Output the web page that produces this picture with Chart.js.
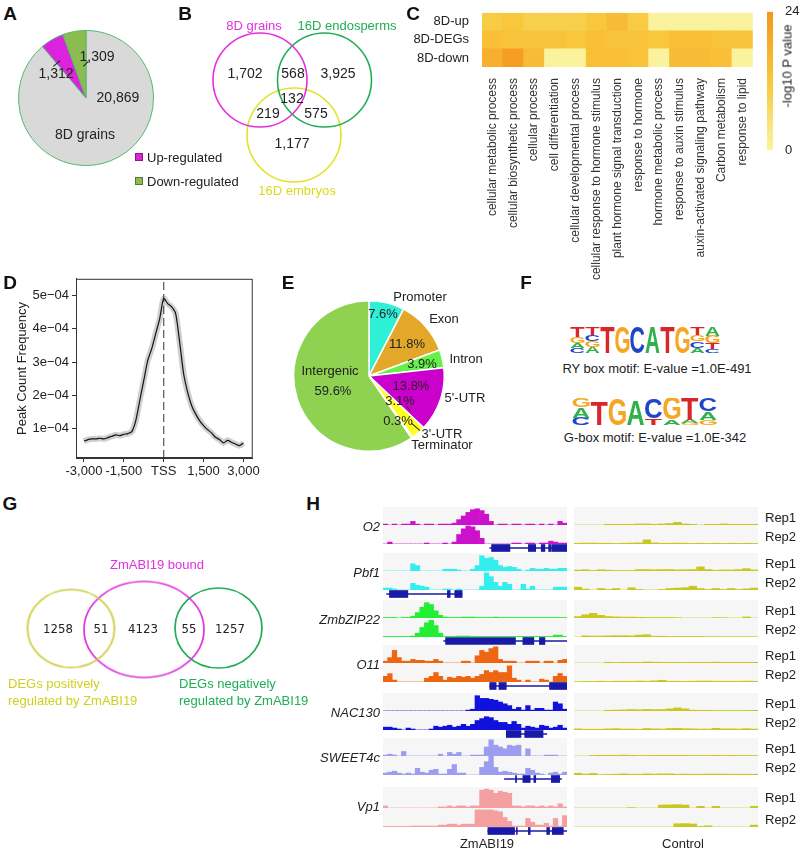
<!DOCTYPE html>
<html>
<head>
<meta charset="utf-8">
<script src="https://cdn.jsdelivr.net/npm/chart.js@4/dist/chart.umd.min.js"></script>
<style>
  body { margin: 0; background: #fff; font-family: "Liberation Sans", Arial, sans-serif; }
  #fig { position: relative; width: 800px; height: 852px; overflow: hidden; }
  #fig canvas { position: absolute; }
  .t { position: absolute; white-space: nowrap; line-height: 1; color: #222; }
</style>
</head>
<body>
<div id="fig"></div>
<script>
// ---------- data ----------
// A: 8D grains DEGs
const aLabels = ['8D grains', 'Up-regulated', 'Down-regulated'];
const aCounts = [20869, 1312, 1309];

// B: venn regions (only8D, 8D&endo, onlyEndo, all, 8D&emb, endo&emb, onlyEmb)
const bSets = ['8D grains', '16D endosperms', '16D embryos'];
const bCounts = [1702, 568, 3925, 132, 219, 575, 1177];

// C: GO heatmap (-log10 P)
const goTerms = ['cellular metabolic process', 'cellular biosynthetic process', 'cellular process',
  'cell differentiation', 'cellular developmental process', 'cellular response to hormone stimulus',
  'plant hormone signal transduction', 'response to hormone', 'hormone metabolic process',
  'response to auxin stimulus', 'auxin-activated signaling pathway', 'Carbon metabolism', 'response to lipid'];
const heatRows = ['8D-up', '8D-DEGs', '8D-down'];
const upVals   = [11, 12, 10, 10, 10, 12, 15, 11, 0.5, 0.5, 0.5, 0.5, 0.5];
const degVals  = [14, 13, 13, 13, 12, 14, 13, 13, 12, 14, 14, 13, 13];
const downVals = [18, 22, 15, 0.5, 0.5, 14, 14, 13, 0.5, 15, 15, 14, 0.5];
const heatMax = 24;

// D: peak frequency around TSS (units of 1e-04)
const tssPos = [-3000, -2850, -2700, -2550, -2400, -2250, -2100, -1950, -1800, -1650, -1500, -1350, -1200, -1050,
  -900, -750, -600, -450, -300, -150, 0, 150, 300, 450, 600, 750, 900, 1050, 1200, 1350, 1500, 1650, 1800, 1950,
  2100, 2250, 2400, 2550, 2700, 2850, 3000];
const peakFreq = [0.63, 0.68, 0.70, 0.70, 0.72, 0.70, 0.74, 0.78, 0.82, 0.80, 0.84, 0.86, 0.92, 1.25,
  1.85, 2.45, 3.05, 3.4, 3.85, 4.3, 4.9, 4.75, 4.65, 4.45, 3.6, 2.65, 2.1, 1.7, 1.45, 1.25, 1.1, 0.98, 0.88, 0.75,
  0.68, 0.58, 0.66, 0.6, 0.55, 0.5, 0.58];
const xTicksD = [-3000, -1500, 0, 1500, 3000];
const yTicksD = [1, 2, 3, 4, 5];

// E: peak distribution
const eParts = ['Promoter', 'Exon', 'Intron', "5'-UTR", "3'-UTR", 'Terminator', 'Intergenic'];
const ePct = [7.6, 11.8, 3.9, 13.8, 3.1, 0.3, 59.6];

// F: motifs (letters top to bottom, heights in bits)
const ryLetters = ['TGAC', 'TCGA', 'T', 'G', 'C', 'A', 'T', 'G', 'TGCA', 'AGTC'];
const ryBits = [[0.75, 0.5, 0.4, 0.35], [0.6, 0.5, 0.45, 0.45], [2], [2], [2], [2], [2], [2],
  [0.6, 0.5, 0.5, 0.4], [0.7, 0.55, 0.45, 0.3]];
const gboxLetters = ['GAC', 'T', 'G', 'A', 'CT', 'GA', 'TAG', 'CAG'];
const gboxBits = [[0.65, 0.75, 0.55], [1.75], [1.95], [1.85], [1.5, 0.5], [1.6, 0.4], [1.6, 0.25, 0.15], [1.0, 0.6, 0.4]];

// G: venn counts (posOnly, pos&bound, boundOnly, neg&bound, negOnly)
const gCounts = [1258, 51, 4123, 55, 1257];

// H: coverage tracks (40 bins ZmABI19, 24 bins control, 0-10 scale)
const hGenes = ['O2', 'Pbf1', 'ZmbZIP22', 'O11', 'NAC130', 'SWEET4c', 'Vp1'];
const o2Rep1 = [0.5,0,0.5,0,0.5,0.5,2,0.5,0,0.5, 0.5,0,0.5,0.5,0.5,1,3,5,7,8.5, 9,8,6,2,0,0.5,0.5,0,0.5,0.5, 0,0.5,0.5,0,0.5,0,0.5,0,2,1];
const o2Rep2 = [0,1,0,0,0,0,0,0,0,0.5, 0,0,0,0.5,0,1,5,8,9.5,9, 7,3,0,0,0,0,0,0,0.5,0.5, 0,0.5,0.5,0,0.5,0.5,1.5,1,0.5,0.5];
const pbf1Rep1 = [0,0,0,0,0,0,4,3,0,0, 0,0,0,1,1,1,0.5,0,0,1, 3,8.5,7,7.5,6,3,2,2.5,2,1, 0,0.5,1.5,1,1,1.5,1,1,1.5,1.5];
const pbf1Rep2 = [1,1,0.5,0,0,0,3.5,2.5,2,1.5, 0,0,0,0.5,0.5,0,0.5,0,0,0, 0,2,9,7,4,2,4,3,0,0, 3,0.5,2,0,0,0,0,1.5,1.5,1.5];
const zip22Rep1 = [0.3,0.3,0.3,0,0.3,0.3,1,3,6,8.5, 7.5,4,1.5,0.5,0.3,0.3,0.3,0.5,0.5,0.5, 0.3,0.3,0.3,0.3,0.5,0.3,0.3,0.3,0.3,0.3, 0.3,0.3,0.3,0.3,0.3,0.3,0.3,0.3,0.3,0.3];
const zip22Rep2 = [0.3,0.3,0.3,0.3,0.3,0.3,0.5,2,5,7.5, 8.8,6,2,0.3,0.3,0.3,0.5,0.5,0.5,0.3, 0.3,0.3,0.3,0.3,0.3,0.3,0.3,0.3,0.3,0.3, 0.3,0.3,0.3,0.3,0.3,0.3,0.3,1,1,0.3];
const o11Rep1 = [1,3,7,3,1,1,2,1.5,1.5,1, 1,2,1,0,0,0,0,1,1,0, 4,7,6,8,9,2,1,1,1,0, 0,1,1,1,0,1,1,0,1.5,2];
const o11Rep2 = [3,4.4,1,0,0,0,0,0,0,2, 3,5,3,1,2.5,2,3,2.5,3,2, 3,4,6,5,6,5,5,8.5,2,1, 0,1,0,0,1.5,1,0,3,4.5,3];
const nacRep1 = [0,0,0,0,0,0,0,0,0,0, 0,0,0,0,0,0,0,0,0.5,1, 8.5,7,7,6.5,6,5,4,3,1,2, 0.5,3,0.5,1.5,1.5,0.5,0.5,5,4,1];
const nacRep2 = [1.5,1.5,1,0.5,0,1,0.5,0,0,0, 0.5,2,1.5,2,2.5,1.5,2,3,2,3, 5,6,7,6.5,5,4,4,3,4.5,3, 1,2,1.5,1,2.5,2,1,1.5,2.5,1];
const sweetRep1 = [0.5,1,0.5,0,2.5,0,0,0,0,0, 0,0,1,0,2,1,2,0,0,0.5, 0.5,0.5,5,9,6,5,4,6,5.5,6, 0,4,0,0,0,0.5,0.5,0.5,0,0];
const sweetRep2 = [1,1.5,2,1,0.5,1,0.5,3.5,1.5,1, 2.5,3,0.5,0.5,3,5.5,1,1,0,0, 0,4,7,10,4,1.5,2,1.5,1,0.5, 0.5,3.5,2.5,1,0.5,0,1,1.5,0.5,1.5];
const vp1Rep1 = [1,0,0,0,0,0,0,0,0,0, 0,0,0.5,0.5,1,0.5,1,1,0.5,1, 1,8.5,9,8.5,7,8,7.5,7,1,1, 0.5,1,1,0.5,1,0.5,1,0.5,2,0.5];
const vp1Rep2 = [0.3,0.3,0.3,0.3,0.3,0.3,0.5,0.5,0.5,0.5, 0.5,0.5,1,1,1.5,1.5,1,1.5,1.5,1.5, 9,9,9,9,8.5,8,5,3,0.5,0.5, 0.5,4.5,2.5,1,1,2,0.5,4.5,0.5,6];

const o2Ctl1 = [0,0,0,0,0.4,0.4,0.4,0.4,0.6,0.6, 0.4,0.6,0.8,1.5,0.6,0.4,0,0.4,0.4,0.6, 0.4,0.4,0.4,0.4];
const o2Ctl2 = [0.4,0.5,0.5,0.4,0.4,0.3,0.4,0.5,0.6,2.2, 0.6,0.4,0.4,0.5,0.4,0.3,0.4,0.3,0.4,0.3, 0.4,0.3,0.4,0.3];
const pbf1Ctl1 = [0.5,0.7,0.3,0.7,0.5,0.3,0.3,0.3,0.8,0.8, 0.7,0.8,0.8,0.6,0.7,0.8,2.3,0.8,0.4,0.6, 0.6,0.8,1.3,0.6];
const pbf1Ctl2 = [1.5,0.5,0,0.8,0.3,0.8,0,1.2,0.3,0, 0,0.3,0.8,1,1.2,2,0.8,0.3,0.8,0.3, 0.8,0.3,0.6,1];
const zip22Ctl1 = [0.8,1.8,2.6,1.5,0.8,0.6,0.5,0.5,0.4,0.3, 0.3,0.3,0.3,0.2,0,0,0,0,0.2,0.2, 0,0,0.6,0];
const zip22Ctl2 = [0,0.6,0.5,0.5,0.6,0.7,0.7,0.6,1,1.2, 0.4,0.4,0.3,0.3,0.3,0.3,0.3,0.2,0.2,0.2, 0.2,0.2,0.2,0.2];
const o11Ctl1 = [0,0,0,0,0.4,0.3,0.4,0.4,0.4,0.6, 0.5,0.4,0.4,0.4,0.3,0.4,0.4,0.4,0.5,0.4, 0.4,0.4,0.4,0.4];
const o11Ctl2 = [0.2,0.3,0.3,0.4,0.3,0.4,0.4,0.4,0.5,0.4, 0.6,0.9,0.4,0.4,0.3,0.4,0.5,0.5,0.4,0.4, 0.4,0.4,0.5,0.4];
const nacCtl1 = [0,0,0,0,0.4,0.5,0.6,0.8,0.7,0.9, 0.8,0.8,1.2,1.7,1.2,0.5,0.4,0.4,0.3,0.3, 0.3,0.3,0.3,0.4];
const nacCtl2 = [0.6,0.4,0.4,0.4,0.6,0.7,0.5,0.5,0.4,0.8, 0.6,0.5,0.8,0.9,0.7,0.6,0.5,0.5,0.9,0.6, 0.6,0.5,0.7,0.5];
const sweetCtl1 = [0,0,0.3,0.4,0.4,0.4,0.5,0.4,0.3,0.3, 0.4,0.4,0.4,0.4,0.4,0.3,0.3,0.3,0.4,0.3, 0.4,0.3,0.3,0.3];
const sweetCtl2 = [0.9,0.5,0.8,0.2,0.3,0.4,0.6,0.4,0.4,0.6, 0.5,0.6,0.6,0.4,0.5,0.4,0.4,0.5,0.5,0.5, 0.4,0.4,0.4,0.4];
const vp1Ctl1 = [0,0,0,0,0,0,0,0.2,0,0, 0,1.4,1.5,1.6,1.4,0,0.8,0,0.8,0, 0,0,0,0.8];
const vp1Ctl2 = [0,0,0,0,0,0,0,0,0,0, 0,0,0,1.7,1.8,1.6,0.3,0.6,0,0, 0,0,0,1];

// gene models (percent of window): [start, end] of gene, exons
const o2Gene = [58, 100], o2Exons = [[59, 69], [79, 83], [86, 88], [90, 91.5], [92, 100]];
const pbf1Gene = [2, 43], pbf1Exons = [[3.5, 13.5], [35, 36.5], [39, 43]];
const zip22Gene = [33, 100], zip22Exons = [[34, 72], [76, 82], [85, 88]];
const o11Gene = [58, 100], o11Exons = [[58, 61.5], [63, 67], [90.5, 100]];
const nacGene = [67, 89], nacExons = [[67, 75], [77, 87]];
const sweetGene = [66, 97], sweetExons = [[72, 72.6], [76, 80], [82, 83], [91.5, 96]];
const vp1Gene = [57, 100], vp1Exons = [[57, 71.5], [72.5, 73], [79, 80], [89, 90.5], [92, 98]];

// ---------- helpers ----------
Chart.defaults.responsive = false;
Chart.defaults.animation = false;
Chart.defaults.layout.autoPadding = false;
Chart.defaults.font.family = '"Liberation Sans", Arial, sans-serif';
Chart.defaults.color = '#222';
Chart.defaults.plugins.legend.display = false;
Chart.defaults.plugins.tooltip.enabled = false;

const fig = document.getElementById('fig');

function canvasAt(x, y, w, h, bg) {
  const c = document.createElement('canvas');
  c.width = w; c.height = h;
  c.style.left = x + 'px'; c.style.top = y + 'px';
  c.style.width = w + 'px'; c.style.height = h + 'px';
  if (bg) c.style.background = bg;
  fig.appendChild(c);
  return c;
}

function txt(s, x, y, o = {}) {
  const d = document.createElement('div');
  d.className = 't';
  d.textContent = s;
  d.style.left = x + 'px';
  d.style.top = y + 'px';
  d.style.fontSize = (o.size || 13) + 'px';
  if (o.color) d.style.color = o.color;
  if (o.bold) d.style.fontWeight = 'bold';
  if (o.italic) d.style.fontStyle = 'italic';
  if (o.font) d.style.fontFamily = o.font;
  const ax = o.align === 'l' ? '0' : o.align === 'r' ? '-100%' : '-50%';
  d.style.transform = `translate(${ax},-50%)` + (o.rot ? ` rotate(${o.rot}deg)` : '');
  fig.appendChild(d);
}

function seg(x1, y1, x2, y2) {
  const d = document.createElement('div');
  const len = Math.hypot(x2 - x1, y2 - y1);
  d.style.cssText = `position:absolute;left:${x1}px;top:${y1}px;width:${len}px;height:1px;background:#222;` +
    `transform-origin:0 0;transform:rotate(${Math.atan2(y2 - y1, x2 - x1)}rad)`;
  fig.appendChild(d);
}

function box(x, y, s, fill, edge) {
  const d = document.createElement('div');
  d.style.cssText = `position:absolute;left:${x}px;top:${y}px;width:${s}px;height:${s}px;background:${fill};border:1px solid ${edge}`;
  fig.appendChild(d);
}

// ---------- A: pie ----------
new Chart(canvasAt(18, 30, 136, 136), {
  type: 'pie',
  data: {
    labels: aLabels,
    datasets: [{ data: aCounts, backgroundColor: ['#d9d9d9', '#dc22dc', '#8cbb50'], borderColor: '#55b870', borderWidth: 1 }]
  }
});

// ---------- B: venn ----------
const magenta = '#e030e0', green = '#1fae55', yellow = '#e2e22a';
const bCircles = [{ x: 260, y: 80 }, { x: 324.5, y: 80 }, { x: 294, y: 135 }];
new Chart(canvasAt(190, 20, 200, 180), {
  type: 'scatter',
  data: {
    datasets: bCircles.map((p, i) => ({
      data: [p], pointRadius: 47, pointBorderWidth: 1.6,
      pointBackgroundColor: 'rgba(0,0,0,0)', pointBorderColor: [magenta, green, yellow][i], clip: false
    }))
  },
  options: {
    scales: {
      x: { display: false, min: 190, max: 390 },
      y: { display: false, min: 20, max: 200, reverse: true }
    }
  }
});

// ---------- C: heatmap ----------
const heatStops = [[0, [250, 244, 160]], [12, [248, 199, 60]], [24, [245, 150, 30]]];
function heatColor(v) {
  const [a, b] = v <= 12 ? [heatStops[0], heatStops[1]] : [heatStops[1], heatStops[2]];
  const t = (v - a[0]) / (b[0] - a[0]);
  return 'rgb(' + a[1].map((c, i) => Math.round(c + (b[1][i] - c) * t)).join(',') + ')';
}
new Chart(canvasAt(400, 0, 360, 300), {
  type: 'bar',
  data: {
    labels: goTerms,
    datasets: [downVals, degVals, upVals].map(vals => ({
      data: vals.map(() => 1),
      backgroundColor: vals.map(heatColor),
      barPercentage: 1, categoryPercentage: 1, borderWidth: 0
    }))
  },
  options: {
    layout: { padding: { top: 7, right: 6 } },
    scales: {
      x: {
        stacked: true, grid: { display: false }, border: { display: false },
        ticks: { minRotation: 90, maxRotation: 90, autoSkip: false, font: { size: 12 }, color: '#333', padding: 3 },
        afterFit: s => { s.height = 233; }
      },
      y: {
        stacked: true, min: 0, max: 3, grid: { display: false }, border: { display: false },
        afterBuildTicks: a => { a.ticks = [0.5, 1.5, 2.5].map(v => ({ value: v })); },
        ticks: { callback: v => heatRows[2 - Math.floor(v)], font: { size: 13 }, color: '#222', padding: 5 },
        afterFit: s => { s.width = 82; }
      }
    }
  }
});

// colour bar
new Chart(canvasAt(767, 0, 32, 162), {
  type: 'bar',
  data: {
    labels: [''],
    datasets: [{
      data: [heatMax], barPercentage: 1, categoryPercentage: 1,
      backgroundColor: c => {
        const a = c.chart.chartArea;
        if (!a) return null;
        const g = c.chart.ctx.createLinearGradient(0, a.bottom, 0, a.top);
        heatStops.forEach(s => g.addColorStop(s[0] / heatMax, heatColor(s[0])));
        return g;
      }
    }]
  },
  options: {
    scales: {
      x: { display: false },
      y: {
        position: 'right', min: 0, max: heatMax, grid: { display: false }, border: { display: false },
        afterBuildTicks: a => { a.ticks = [{ value: 0 }, { value: heatMax }]; },
        ticks: { font: { size: 13 }, color: '#222', padding: 4 },
        afterFit: s => { s.width = 26; }
      }
    }
  }
});

// ---------- D: line ----------
const frameBox = {
  id: 'frameBox',
  afterDraw(c) {
    const a = c.chartArea, x = c.ctx;
    x.save(); x.strokeStyle = '#333'; x.lineWidth = 1;
    x.strokeRect(a.left + 0.5, a.top + 0.5, a.width - 1, a.height - 1);
    x.restore();
  }
};
const dMin = 0.13, dMax = 5.49;
const dPts = tssPos.map((x, i) => ({ x, y: peakFreq[i] }));
new Chart(canvasAt(0, 268, 262, 215), {
  type: 'line',
  data: {
    datasets: [
      { data: dPts, borderColor: '#111', borderWidth: 1.2, pointRadius: 0, tension: 0.25, order: 1 },
      { data: dPts, borderColor: '#cfcfcf', borderWidth: 6, pointRadius: 0, tension: 0.25, order: 3 },
      { data: [{ x: 0, y: dMin }, { x: 0, y: dMax }], borderColor: '#555', borderWidth: 1.2, borderDash: [8, 4], pointRadius: 0, order: 2 }
    ]
  },
  options: {
    layout: { padding: { top: 6, right: 6 } },
    scales: {
      x: {
        type: 'linear', min: -3300, max: 3350,
        afterBuildTicks: a => { a.ticks = xTicksD.map(v => ({ value: v })); },
        ticks: { callback: v => v === 0 ? 'TSS' : v.toLocaleString('en-US'), font: { size: 13 }, color: '#222', padding: 2, maxRotation: 0 },
        grid: { display: true, drawOnChartArea: false, tickLength: 4, color: '#333' },
        border: { color: '#333' },
        afterFit: s => { s.height = 25; }
      },
      y: {
        min: dMin, max: dMax,
        afterBuildTicks: a => { a.ticks = yTicksD.map(v => ({ value: v })); },
        ticks: { callback: v => v + 'e\u221204', font: { size: 13 }, color: '#222', padding: 3 },
        grid: { display: true, drawOnChartArea: false, tickLength: 4, color: '#333' },
        border: { color: '#333' },
        title: { display: true, text: 'Peak Count Frequency', font: { size: 13 }, color: '#222', padding: { top: 15, bottom: 0 } },
        afterFit: s => { s.width = 76; }
      }
    }
  },
  plugins: [frameBox]
});

// ---------- E: pie ----------
new Chart(canvasAt(293, 300, 152, 152), {
  type: 'pie',
  data: {
    labels: eParts,
    datasets: [{
      data: ePct,
      backgroundColor: ['#2ef0d6', '#e3a82a', '#66f04a', '#cc00cc', '#ffff22', '#ffffc0', '#8fd150'],
      borderColor: '#fff', borderWidth: 1.5
    }]
  }
});

// ---------- F: motif logos ----------
const letterColors = { A: '#2fb14b', C: '#2046c8', G: '#f5a623', T: '#d9262b' };
const logoLetters = {
  id: 'logoLetters',
  afterDatasetsDraw(c) {
    const ctx = c.ctx;
    ctx.save();
    ctx.font = 'bold 100px "Liberation Sans", Arial, sans-serif';
    c.data.datasets.forEach((ds, di) => {
      c.getDatasetMeta(di).data.forEach((bar, i) => {
        const L = ds.letters[i];
        if (!L) return;
        const { x, y, base, width } = bar.getProps(['x', 'y', 'base', 'width'], true);
        const h = base - y;
        if (h <= 0.3) return;
        const m = ctx.measureText(L);
        const gw = m.actualBoundingBoxLeft + m.actualBoundingBoxRight;
        const gh = m.actualBoundingBoxAscent + m.actualBoundingBoxDescent;
        ctx.save();
        ctx.translate(x - width / 2, base);
        ctx.scale(width / gw, h / gh);
        ctx.fillStyle = letterColors[L];
        ctx.fillText(L, m.actualBoundingBoxLeft, -m.actualBoundingBoxDescent);
        ctx.restore();
      });
    });
    ctx.restore();
  }
};
function logo(x, y, w, h, letters, bits) {
  const depth = Math.max(...letters.map(s => s.length));
  const datasets = [];
  for (let k = 0; k < depth; k++) {
    datasets.push({
      data: letters.map((s, i) => { const j = s.length - 1 - k; return j >= 0 ? bits[i][j] : 0; }),
      letters: letters.map(s => { const j = s.length - 1 - k; return j >= 0 ? s[j] : ''; }),
      backgroundColor: 'rgba(0,0,0,0)', barPercentage: 0.94, categoryPercentage: 1
    });
  }
  new Chart(canvasAt(x, y, w, h), {
    type: 'bar',
    data: { labels: letters.map((_, i) => i + 1), datasets },
    options: { scales: { x: { display: false, stacked: true }, y: { display: false, stacked: true, min: 0, max: 2 } } },
    plugins: [logoLetters]
  });
}
logo(570, 327, 150, 26, ryLetters, ryBits);
logo(572, 398, 145, 27, gboxLetters, gboxBits);

// ---------- G: venn with ellipses ----------
function ellipseImg(rx, ry, color) {
  const c = document.createElement('canvas');
  c.width = 2 * rx + 4; c.height = 2 * ry + 4;
  const x = c.getContext('2d');
  x.strokeStyle = color; x.lineWidth = 1.7;
  x.beginPath(); x.ellipse(rx + 2, ry + 2, rx, ry, 0, 0, 2 * Math.PI); x.stroke();
  return c;
}
const gShapes = [
  { x: 71, y: 628.5, img: ellipseImg(43.5, 39, '#cccc3a') },
  { x: 144, y: 629.5, img: ellipseImg(60, 48, magenta) },
  { x: 218.5, y: 628, img: ellipseImg(43.5, 40, green) }
];
new Chart(canvasAt(0, 570, 280, 120), {
  type: 'scatter',
  data: {
    datasets: gShapes.map(s => ({ data: [{ x: s.x, y: s.y }], pointStyle: s.img, pointRadius: 3, clip: false }))
  },
  options: {
    scales: {
      x: { display: false, min: 0, max: 280 },
      y: { display: false, min: 570, max: 690, reverse: true }
    }
  }
});

// ---------- H: tracks ----------
const hColors = ['#cc11cc', '#33eeee', '#22ee33', '#ee6611', '#1111dd', '#9c9cf0', '#f4a0a0'];
const ctlColor = '#c8c820';
const hTracks = [
  [o2Rep1, o2Rep2, o2Ctl1, o2Ctl2, o2Gene, o2Exons],
  [pbf1Rep1, pbf1Rep2, pbf1Ctl1, pbf1Ctl2, pbf1Gene, pbf1Exons],
  [zip22Rep1, zip22Rep2, zip22Ctl1, zip22Ctl2, zip22Gene, zip22Exons],
  [o11Rep1, o11Rep2, o11Ctl1, o11Ctl2, o11Gene, o11Exons],
  [nacRep1, nacRep2, nacCtl1, nacCtl2, nacGene, nacExons],
  [sweetRep1, sweetRep2, sweetCtl1, sweetCtl2, sweetGene, sweetExons],
  [vp1Rep1, vp1Rep2, vp1Ctl1, vp1Ctl2, vp1Gene, vp1Exons]
];
const blockTops = [507, 553, 600, 645, 693, 738, 787];
const abiX = 383, ctlX = 574, trackW = 184;

function track(x, y, h, vals, color) {
  new Chart(canvasAt(x, y, trackW, h, '#f6f6f6'), {
    type: 'bar',
    data: { labels: vals.map((_, i) => i), datasets: [{ data: vals, backgroundColor: color, barPercentage: 1, categoryPercentage: 1, borderWidth: 0 }] },
    options: { scales: { x: { display: false }, y: { display: false, min: 0, max: 10 } } }
  });
}
function geneModel(x, y, span, exons) {
  const navy = '#1a1aa8';
  new Chart(canvasAt(x, y - 5, trackW, 10), {
    type: 'bar',
    data: {
      labels: ['g'],
      datasets: [{ data: [span], backgroundColor: navy, barThickness: 1, grouped: false }]
        .concat(exons.map(e => ({ data: [e], backgroundColor: navy, barThickness: 7, grouped: false })))
    },
    options: { indexAxis: 'y', scales: { x: { display: false, min: 0, max: 100 }, y: { display: false } } }
  });
}

hTracks.forEach((t, i) => {
  const top = blockTops[i];
  const h1 = i === 6 ? 21 : 18, h2 = 19;
  track(abiX, top, h1, t[0], hColors[i]);
  track(abiX, top + h1, h2, t[1], hColors[i]);
  track(ctlX, top, h1, t[2], ctlColor);
  track(ctlX, top + h1, h2, t[3], ctlColor);
  geneModel(abiX, top + h1 + h2 + 4, t[4], t[5]);
  txt(hGenes[i], 380, top + 19, { italic: true, align: 'r' });
  txt('Rep1', 765, top + 10, { align: 'l' });
  txt('Rep2', 765, top + h1 + 11, { align: 'l' });
});
txt('ZmABI19', 487, 843);
txt('Control', 683, 843);

// ---------- text ----------
// panel letters
[['A', 10, 13], ['B', 185, 13], ['C', 413, 13], ['D', 10, 282], ['E', 288, 282], ['F', 526, 282], ['G', 10, 503], ['H', 313, 503]]
  .forEach(([s, x, y]) => txt(s, x, y, { size: 19, bold: true, color: '#111' }));

// A
txt(aCounts[0].toLocaleString('en-US'), 118, 97, { size: 14 });
txt(aLabels[0], 85, 134, { size: 14 });
txt(aCounts[1].toLocaleString('en-US'), 56, 73, { size: 14 });
txt(aCounts[2].toLocaleString('en-US'), 97, 56, { size: 14 });
seg(53, 66, 60, 60);
seg(83, 66, 88, 61);
box(135, 153, 6, '#dc22dc', '#7a227a');
box(135, 177, 6, '#8cbb50', '#557733');
txt(aLabels[1], 147, 157, { align: 'l' });
txt(aLabels[2], 147, 181, { align: 'l' });

// B
txt(bSets[0], 254, 25, { color: magenta });
txt(bSets[1], 347, 25, { color: green });
txt(bSets[2], 297, 190, { color: '#dada20' });
const bPos = [[245, 73], [293, 73], [338, 73], [292, 98], [268, 113], [316, 113], [292, 143]];
bCounts.forEach((v, i) => txt(v.toLocaleString('en-US'), bPos[i][0], bPos[i][1], { size: 14 }));

// C colour bar title
txt('-log10 P value', 787, 66, { rot: -90 });

// E
const eNamePos = [[420, 296], [444, 318], [466, 358], [465, 397], [442, 433], [442, 444], [330, 370]];
const ePctPos = [[383, 313], [407, 343], [422, 363], [411, 385], [400, 400], [398, 420], [333, 390]];
eParts.forEach((s, i) => {
  txt(s, eNamePos[i][0], eNamePos[i][1]);
  txt(ePct[i] + '%', ePctPos[i][0], ePctPos[i][1]);
});
seg(407, 406, 411, 411);
seg(412, 423, 420, 430);

// F captions
txt('RY box motif: E-value =1.0E-491', 657, 368);
txt('G-box motif: E-value =1.0E-342', 655, 437);

// G
txt('ZmABI19 bound', 157, 564, { color: magenta });
const gPos = [58, 101, 143, 189, 230];
gCounts.forEach((v, i) => txt(String(v), gPos[i], 628, { font: '"Liberation Sans Narrow", "DejaVu Sans Condensed", sans-serif' }));
txt('DEGs positively', 8, 683, { align: 'l', color: '#d0d020' });
txt('regulated by ZmABI19', 8, 700, { align: 'l', color: '#d0d020' });
txt('DEGs negatively', 179, 683, { align: 'l', color: green });
txt('regulated by ZmABI19', 179, 700, { align: 'l', color: green });
</script>
</body>
</html>
